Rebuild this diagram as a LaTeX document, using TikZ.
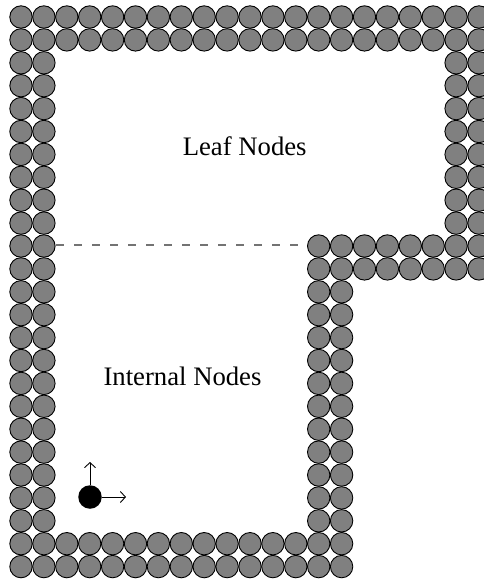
\documentclass[tikz,border=0pt]{standalone}
\usepackage{fontspec}
\setmainfont{Liberation Serif}
\usetikzlibrary{arrows.meta}
\begin{document}
\begin{tikzpicture}[x=1pt,y=-1pt,
  ball/.style={draw=black, fill=gray, line width=0.9pt},
  label/.style={font=\fontsize{26.7}{32}\selectfont, anchor=base, inner sep=0pt},
  axis/.style={line width=0.9pt, -{Straight Barb[length=5pt,width=11pt,line width=0.9pt]}},
  sep/.style={draw=gray!90!black, line width=1.3pt, dash pattern=on 8pt off 10pt}]
\useasboundingbox (0,0) rectangle (484,581);
\clip (0,0) rectangle (484,581);
% top two rows
\foreach \j in {0,1} \foreach \i in {0,...,20}
  \draw[ball] ({21+22.9*\i},{17+22.9*\j}) circle (11.2);
% left two columns
\foreach \i in {0,1} \foreach \j in {2,...,24}
  \draw[ball] ({21+22.9*\i},{17+22.9*\j}) circle (11.2);
% bottom two rows
\foreach \j in {23,24} \foreach \i in {2,...,14}
  \draw[ball] ({21+22.9*\i},{17+22.9*\j}) circle (11.2);
% middle columns
\foreach \i in {13,14} \foreach \j in {10,...,22}
  \draw[ball] ({21+22.9*\i},{17+22.9*\j}) circle (11.2);
% right rows 10,11
\foreach \j in {10,11} \foreach \i in {15,...,20}
  \draw[ball] ({21+22.9*\i},{17+22.9*\j}) circle (11.2);
% right columns
\foreach \i in {19,20} \foreach \j in {2,...,9}
  \draw[ball] ({21+22.9*\i},{17+22.9*\j}) circle (11.2);
% separator
\coordinate (sepA) at (56,245);
\coordinate (sepB) at (306,245);
\draw[sep] (sepA) -- (sepB);
% labels
\node[label] (leaf) at (244.7,155) {Leaf Nodes};
\node[label] (internal) at (182.5,385) {Internal Nodes};
% origin
\node[circle, fill=black, minimum size=23.5pt, inner sep=0pt] (origin) at (90,497) {};
\coordinate (yend) at (90,462);
\coordinate (xend) at (126,497);
\draw[axis] (origin.north) -- (yend);
\draw[axis] (origin.east) -- (xend);
\end{tikzpicture}
\end{document}
